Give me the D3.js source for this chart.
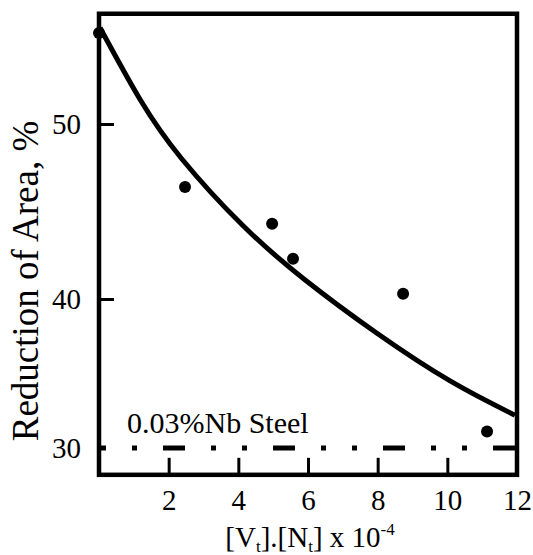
<!DOCTYPE html>
<html>
<head>
<meta charset="utf-8">
<script src="https://cdn.jsdelivr.net/npm/d3@7"></script>
<style>
  body { margin: 0; background: #fff; }
  text { font-family: "Liberation Serif", "Times New Roman", serif; fill: #000; }
</style>
</head>
<body>
<div id="chart"></div>
<script>
(function() {
  // measured points
  const pointX = [0.0, 2.47, 4.97, 5.57, 8.73, 11.14];
  const pointY = [55.2, 46.4, 44.3, 42.3, 40.3, 31.1];

  // fitted curve
  const curveX = [0.03, 1.18, 2.38, 4.13, 5.91, 7.98, 10.08, 11.94];
  const curveY = [55.5, 51.4, 48.0, 44.2, 41.1, 37.7, 34.5, 32.2];

  const xTicks = [2, 4, 6, 8, 10, 12];
  const yTicks = [30, 40, 50];
  const refLevel = 30;
  const refLabel = "0.03%Nb Steel";

  const width = 533;
  const height = 555;

  const svg = d3.select("#chart")
    .append("svg")
      .attr("width", width)
      .attr("height", height);

  const x = d3.scaleLinear()
    .domain([0, 12])
    .range([99, 517]);

  // the printed axis is not evenly spaced, so follow its tick positions
  const y = d3.scaleLinear()
    .domain([30, 40, 50])
    .range([448, 299, 124]);

  const yBottom = 28.2, yTop = 56.3;

  // x axis: ticks pointing up into the plot
  const xAxis = svg.append("g")
    .attr("transform", `translate(0, ${y(yBottom)})`)
    .call(d3.axisBottom(x)
      .tickValues(xTicks)
      .tickSize(-17)
      .tickPadding(15)
      .tickFormat(d3.format("d")));
  xAxis.select(".domain").remove();
  xAxis.selectAll("line").attr("stroke", "#000").attr("stroke-width", 3);
  xAxis.selectAll("text").attr("font-size", 29).attr("font-family", "Liberation Serif");

  const yAxis = svg.append("g")
    .attr("transform", `translate(${x(0)}, 0)`)
    .call(d3.axisLeft(y)
      .tickValues(yTicks)
      .tickSize(-15)
      .tickPadding(18)
      .tickFormat(d3.format("d")));
  yAxis.select(".domain").remove();
  yAxis.selectAll("line").attr("stroke", "#000").attr("stroke-width", 3);
  yAxis.selectAll(".tick").filter(d => d === 30).select("line").remove();
  yAxis.selectAll("text").attr("font-size", 29).attr("font-family", "Liberation Serif");

  // frame
  svg.append("rect")
    .attr("x", x(0))
    .attr("y", y(yTop))
    .attr("width", x(12) - x(0))
    .attr("height", y(yBottom) - y(yTop))
    .attr("fill", "none")
    .attr("stroke", "#000")
    .attr("stroke-width", 4.5);

  // reference level, dash-dot-dot
  svg.append("line")
    .attr("x1", x(0))
    .attr("x2", x(12))
    .attr("y1", y(refLevel))
    .attr("y2", y(refLevel))
    .attr("stroke", "#000")
    .attr("stroke-width", 5)
    .attr("stroke-dasharray", "22,26,5,26,5,26")
    .attr("stroke-dashoffset", 46);

  svg.append("text")
    .attr("x", 127)
    .attr("y", 433)
    .attr("font-size", 30)
    .text(refLabel);

  // curve
  const line = d3.line()
    .x(d => x(d[0]))
    .y(d => y(d[1]))
    .curve(d3.curveNatural);

  svg.append("path")
    .datum(d3.zip(curveX, curveY))
    .attr("d", line)
    .attr("fill", "none")
    .attr("stroke", "#000")
    .attr("stroke-width", 5);

  svg.selectAll("circle.pt")
    .data(d3.zip(pointX, pointY))
    .enter().append("circle")
      .attr("class", "pt")
      .attr("cx", d => x(d[0]))
      .attr("cy", d => y(d[1]))
      .attr("r", 6)
      .attr("fill", "#000");

  // axis titles
  const xt = svg.append("text")
    .attr("x", 310)
    .attr("y", 547)
    .attr("text-anchor", "middle")
    .attr("font-size", 29);
  xt.append("tspan").text("[V");
  xt.append("tspan").attr("font-size", 17).attr("dy", 5).text("t");
  xt.append("tspan").attr("dy", -5).text("].[N");
  xt.append("tspan").attr("font-size", 17).attr("dy", 5).text("t");
  xt.append("tspan").attr("dy", -5).text("] x 10");
  xt.append("tspan").attr("font-size", 17).attr("dy", -12).text("-4");

  svg.append("text")
    .attr("transform", `translate(38, 281) rotate(-90)`)
    .attr("text-anchor", "middle")
    .attr("font-size", 37)
    .text("Reduction of Area, %");
})();
</script>
</body>
</html>
